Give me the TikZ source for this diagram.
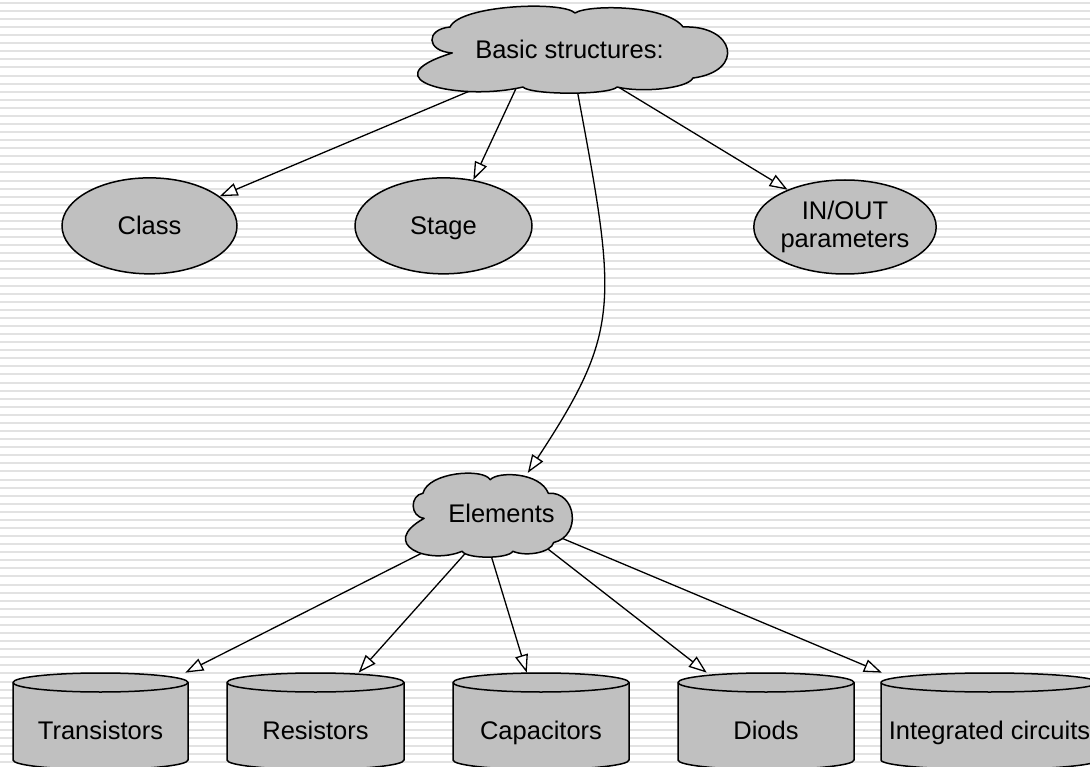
\documentclass[tikz,border=0pt]{standalone}
\usepackage{fontspec}
\setmainfont{Liberation Sans}
\usetikzlibrary{arrows.meta,shapes.geometric}

\definecolor{shapefill}{RGB}{192,192,192}
\definecolor{stripe}{RGB}{226,226,226}

\pgfdeclarelayer{paper}
\pgfdeclarelayer{wires}
\pgfsetlayers{paper,wires,main}

% cloud outline: centre x, centre y, half width, half height
\newcommand\puffcloud[4]{%
  \begin{scope}[shift={(#1,#2)}, xscale=#3, yscale=#4]
    \filldraw[fill=shapefill, draw=black, line width=1.5pt, line join=round]
      (-0.764,0.5) .. controls (-0.70,1.0) and (-0.05,1.10) .. (0.032,0.818)
      .. controls (0.12,1.02) and (0.62,1.0) .. (0.72,0.5)
      .. controls (1.05,0.55) and (1.12,-0.5) .. (0.783,-0.66)
      .. controls (0.75,-0.9) and (0.45,-1.0) .. (0.30,-0.864)
      .. controls (0.25,-1.05) and (-0.25,-1.05) .. (-0.30,-0.864)
      .. controls (-0.7,-1.2) and (-1.3,-0.7) .. (-0.75,-0.09)
      .. controls (-0.92,-0.05) and (-0.92,0.45) .. (-0.764,0.5) -- cycle;
  \end{scope}}

% cylinder body: centre x, half width
\newcommand\drum[2]{%
  \filldraw[fill=shapefill, draw=black, line width=1.5pt, line join=round]
    (#1-#2,-682.5) -- (#1-#2,-760)
    arc[start angle=180, end angle=360, x radius=#2, y radius=9.5]
    -- (#1+#2,-682.5)
    arc[start angle=0, end angle=180, x radius=#2, y radius=9.5] -- cycle;
  \draw[line width=1.5pt]
    (#1-#2,-682.5) arc[start angle=180, end angle=360, x radius=#2, y radius=9.5];}

\begin{document}
\begin{tikzpicture}[x=1pt, y=1pt,
  txt/.style={font=\fontsize{25.5}{28}\selectfont},
  oval/.style={ellipse, fill=shapefill, draw=black, line width=1.5pt,
    inner sep=0pt, minimum width=175pt, minimum height=96pt,
    txt, text height=18.3pt, text depth=0pt},
  twoline/.style={ellipse, fill=shapefill, draw=black, line width=1.5pt,
    inner sep=0pt, minimum width=178pt, minimum height=94pt,
    txt, align=center},
  puff/.style={ellipse, draw=none, inner sep=0pt, txt,
    text height=18.3pt, text depth=0pt},
  drumlabel/.style={rectangle, draw=none, inner sep=0pt,
    minimum height=114pt, txt, text height=18.3pt, text depth=0pt},
  link/.style={line width=1.3pt,
    -{Triangle[open, fill=white, length=18pt, width=13pt]}}
]
\useasboundingbox (0,0) rectangle (1090,-767);
\clip (0,0) rectangle (1090,-767);

% ruled paper
\begin{pgfonlayer}{paper}
  \fill[white] (0,0) rectangle (1090,-767);
  \foreach \k in {0,...,95}
    \fill[stripe] (0,{-1.8-8.08*\k}) rectangle (1090,{-3.8-8.08*\k});
\end{pgfonlayer}

% clouds
\puffcloud{570}{-49}{157}{44}
\puffcloud{487.5}{-514.5}{84.5}{42.5}

% cylinders
\drum{100.5}{87.5}
\drum{315.5}{88.5}
\drum{541}{88}
\drum{766}{88}
\drum{989.5}{108.5}

% nodes
\node[puff, minimum width=270pt, minimum height=70pt] (bs) at (569.5,-49) {Basic structures:};
\node[puff, minimum width=150pt, minimum height=85pt] (elem) at (501.5,-512.85) {Elements};

\node[oval] (class) at (149.5,-225.85) {Class};
\node[oval, minimum width=177pt] (stage) at (443.5,-225.85) {Stage};
\node[twoline] (inout) at (845,-227) {IN/OUT\\parameters};

\node[drumlabel, minimum width=175pt] (trans) at (100.5,-729.85) {Transistors};
\node[drumlabel, minimum width=177pt] (res) at (315.5,-729.85) {Resistors};
\node[drumlabel, minimum width=176pt] (cap) at (541,-729.85) {Capacitors};
\node[drumlabel, minimum width=176pt] (diods) at (766,-729.85) {Diods};
\node[drumlabel, minimum width=217pt] (ic) at (989.5,-729.85) {Integrated circuits};

% connectors
\begin{pgfonlayer}{wires}
  \draw[link] (bs.center) -- (class);
  \draw[link] (bs.213) -- (stage.57);
  \draw[link] (bs.321) -- (inout.147);
  \draw[link] (bs.center) .. controls (616,-300) and (627,-322) .. (elem);

  \draw[link] (elem.center) -- (trans.34);
  \draw[link] (elem.center) -- (res.53);
  \draw[link] (elem.256) -- (cap.104.5);
  \draw[link] (elem.center) -- (diods.136.5);
  \draw[link] (elem.center) -- (ic.152);
\end{pgfonlayer}
\end{tikzpicture}
\end{document}
